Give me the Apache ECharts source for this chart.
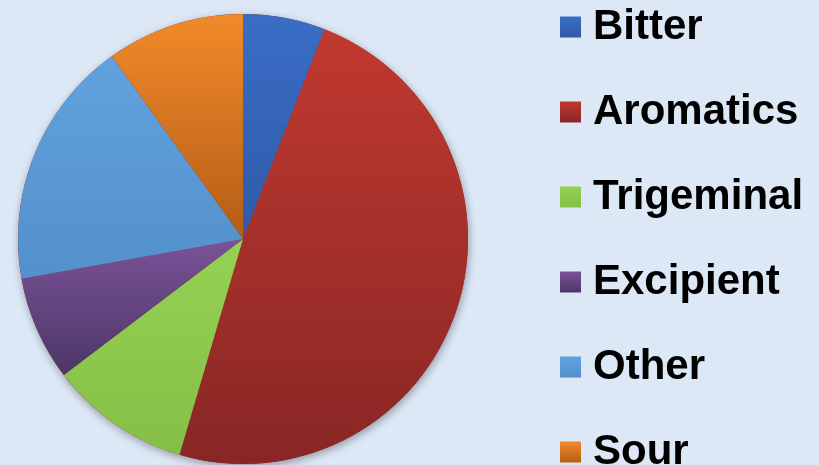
<!DOCTYPE html>
<html>
<head>
<meta charset="utf-8">
<script src="https://cdn.jsdelivr.net/npm/echarts@6/dist/echarts.min.js"></script>
<style>
  html, body { margin: 0; padding: 0; background: #dde8f6; }
  #chart { width: 819px; height: 465px; }
</style>
</head>
<body>
<div id="chart"></div>
<script>
// Share of each flavour component (percent)
const categories = ['Bitter', 'Aromatics', 'Trigeminal', 'Excipient', 'Other', 'Sour'];
const shares = [5.9, 48.6, 10.1, 7.5, 17.9, 9.9];

// Top / bottom colours of each slice's vertical gradient
const topColors = ['#3b6dc6', '#c1392f', '#95d253', '#7a5298', '#61a2de', '#f28a2a'];
const bottomColors = ['#2f5aa8', '#882625', '#85bf47', '#4c3766', '#5390cc', '#b45d16'];

function gradient(i) {
  return new echarts.graphic.LinearGradient(0, 0, 0, 1, [
    { offset: 0, color: topColors[i] },
    { offset: 1, color: bottomColors[i] }
  ]);
}

const chart = echarts.init(document.getElementById('chart'), null, { renderer: 'canvas' });

const center = [243, 239];
const radius = 225;

chart.setOption({
  backgroundColor: '#dde8f6',
  animation: false,
  legend: {
    orient: 'vertical',
    left: 560,
    top: 3,
    height: 600,
    padding: 0,
    itemWidth: 21,
    itemHeight: 21,
    itemGap: 37,
    icon: 'rect',
    selectedMode: false,
    data: categories,
    textStyle: {
      fontFamily: '"Liberation Sans", Arial, sans-serif',
      fontWeight: 'bold',
      fontSize: 42,
      lineHeight: 42,
      color: '#000',
      padding: [0, 0, 6, 7]
    }
  },
  series: [
    {
      // soft drop shadow beneath the whole pie
      type: 'pie',
      silent: true,
      center: center,
      radius: radius,
      label: { show: false },
      labelLine: { show: false },
      itemStyle: {
        color: '#8b2826',
        shadowBlur: 8,
        shadowOffsetY: 3,
        shadowOffsetX: 1,
        shadowColor: 'rgba(0,0,0,0.35)'
      },
      data: [{ value: 1, name: '' }],
      z: 1
    },
    {
      type: 'pie',
      center: center,
      radius: radius,
      startAngle: 90,
      clockwise: true,
      label: { show: false },
      labelLine: { show: false },
      emphasis: { disabled: true },
      itemStyle: { borderWidth: 0 },
      data: categories.map((name, i) => ({
        name: name,
        value: shares[i],
        itemStyle: { color: gradient(i) }
      })),
      z: 2
    }
  ]
});
</script>
</body>
</html>
